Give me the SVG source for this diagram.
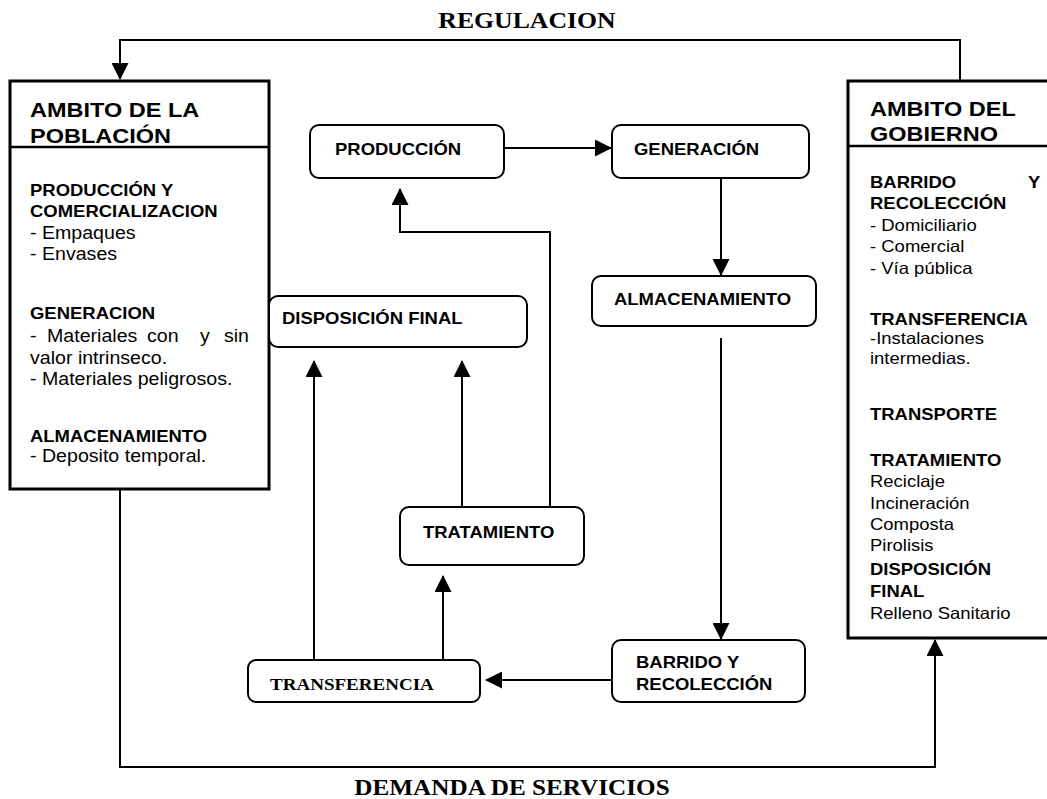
<svg xmlns="http://www.w3.org/2000/svg" width="1047" height="799" viewBox="0 0 1047 799">
<defs>
<style>
.bg{fill:#fff}
.box{fill:#fff;stroke:#000;stroke-width:2}
.big{fill:#fff;stroke:#000;stroke-width:3}
.div{fill:none;stroke:#000;stroke-width:2.5}
.c{fill:none;stroke:#000;stroke-width:2}
text{fill:#000;font-family:"Liberation Sans",Arial,sans-serif}
.h{font-weight:bold;font-size:21px}
.s{font-weight:bold;font-size:16.5px}
.l{font-size:17.5px}
.r{font-size:16.5px}
.t{font-family:"Liberation Serif","Times New Roman",serif;font-weight:bold}
</style>
<marker id="ah" markerWidth="17" markerHeight="17" refX="16" refY="8.5" orient="auto" markerUnits="userSpaceOnUse">
<path d="M0,0 L17,8.5 L0,17 z" fill="#000"/>
</marker>
</defs>
<rect class="bg" x="0" y="0" width="1047" height="799"/>

<g id="connectors">
<path class="c" d="M960,81 V40 H120 V79" marker-end="url(#ah)"/>
<path class="c" d="M120,489 V767 H935 V640" marker-end="url(#ah)"/>
<path class="c" d="M504,148 H611" marker-end="url(#ah)"/>
<path class="c" d="M721,178 V275" marker-end="url(#ah)"/>
<path class="c" d="M721,338 V639" marker-end="url(#ah)"/>
<path class="c" d="M612,680 H486" marker-end="url(#ah)"/>
<path class="c" d="M443,660 V576" marker-end="url(#ah)"/>
<path class="c" d="M314,660 V361" marker-end="url(#ah)"/>
<path class="c" d="M462,507 V361" marker-end="url(#ah)"/>
<path class="c" d="M550,507 V232 H400 V189" marker-end="url(#ah)"/>
<g transform="translate(527 28) scale(1.12 1)"><text class="t" x="0" y="0" text-anchor="middle" font-size="23">REGULACION</text></g>
<g transform="translate(512 795) scale(1.12 1)"><text class="t" x="0" y="0" text-anchor="middle" font-size="22.5">DEMANDA DE SERVICIOS</text></g>
</g>

<g id="n-poblacion">
<rect class="big" x="10" y="81" width="259" height="408"/>
<line class="div" x1="10" y1="147" x2="269" y2="147"/>
<g transform="translate(30 0) scale(1.12 1)">
<text class="h" x="0" y="117">AMBITO DE LA</text>
<text class="h" x="0" y="143">POBLACIÓN</text>
<text class="s" x="0" y="196">PRODUCCIÓN Y</text>
<text class="s" x="0" y="217">COMERCIALIZACION</text>
<text class="l" x="0" y="239">- Empaques</text>
<text class="l" x="0" y="260">- Envases</text>
<text class="s" x="0" y="319">GENERACION</text>
<text class="l" y="342"><tspan x="0">-</tspan><tspan x="15.2">Materiales</tspan><tspan x="104.5">con</tspan><tspan x="151.8">y</tspan><tspan x="173.2">sin</tspan></text>
<text class="l" x="0" y="364">valor intrinseco.</text>
<text class="l" x="0" y="385">- Materiales peligrosos.</text>
<text class="s" x="0" y="442">ALMACENAMIENTO</text>
<text class="l" x="0" y="462">- Deposito temporal.</text>
</g>
</g>

<g id="n-gobierno">
<path class="big" d="M1050,81 H848 V638 H1050"/>
<line class="div" x1="848" y1="146" x2="1047" y2="146"/>
<g transform="translate(870 0) scale(1.12 1)">
<text class="h" x="0" y="116">AMBITO DEL</text>
<text class="h" x="0" y="141">GOBIERNO</text>
<text class="s" y="188"><tspan x="0">BARRIDO</tspan><tspan x="141">Y</tspan></text>
<text class="s" x="0" y="209">RECOLECCIÓN</text>
<text class="r" x="0" y="231">- Domiciliario</text>
<text class="r" x="0" y="252">- Comercial</text>
<text class="r" x="0" y="274">- Vía pública</text>
<text class="s" x="0" y="325">TRANSFERENCIA</text>
<text class="r" x="0" y="344">-Instalaciones</text>
<text class="r" x="0" y="364">intermedias.</text>
<text class="s" x="0" y="420">TRANSPORTE</text>
<text class="s" x="0" y="466">TRATAMIENTO</text>
<text class="r" x="0" y="487">Reciclaje</text>
<text class="r" x="0" y="509">Incineración</text>
<text class="r" x="0" y="530">Composta</text>
<text class="r" x="0" y="551">Pirolisis</text>
<text class="s" x="0" y="575" font-size="18">DISPOSICIÓN</text>
<text class="s" x="0" y="597" font-size="18">FINAL</text>
<text class="r" x="0" y="619">Relleno Sanitario</text>
</g>
</g>

<g id="n-produccion">
<rect class="box" x="310" y="125" width="194" height="53" rx="9"/>
<g transform="translate(335 155) scale(1.12 1)"><text class="s" x="0" y="0">PRODUCCIÓN</text></g>
</g>

<g id="n-generacion">
<rect class="box" x="612" y="125" width="197" height="53" rx="9"/>
<g transform="translate(634 155) scale(1.12 1)"><text class="s" x="0" y="0">GENERACIÓN</text></g>
</g>

<g id="n-almacenamiento">
<rect class="box" x="592" y="276" width="224" height="50" rx="9"/>
<g transform="translate(614 305) scale(1.12 1)"><text class="s" x="0" y="0">ALMACENAMIENTO</text></g>
</g>

<g id="n-disposicion">
<rect class="box" x="269" y="296" width="258" height="51" rx="9"/>
<g transform="translate(282 324) scale(1.12 1)"><text class="s" x="0" y="0">DISPOSICIÓN FINAL</text></g>
</g>

<g id="n-tratamiento">
<rect class="box" x="400" y="507" width="184" height="58" rx="9"/>
<g transform="translate(423 538) scale(1.12 1)"><text class="s" x="0" y="0">TRATAMIENTO</text></g>
</g>

<g id="n-barrido">
<rect class="box" x="612" y="640" width="193" height="62" rx="9"/>
<g transform="translate(636 0) scale(1.12 1)">
<text class="s" x="0" y="668">BARRIDO Y</text>
<text class="s" x="0" y="690">RECOLECCIÓN</text>
</g>
</g>

<g id="n-transferencia">
<rect class="box" x="248" y="660" width="232" height="42" rx="8"/>
<g transform="translate(270 690) scale(1.12 1)"><text class="t" x="0" y="0" font-size="17">TRANSFERENCIA</text></g>
</g>
</svg>
